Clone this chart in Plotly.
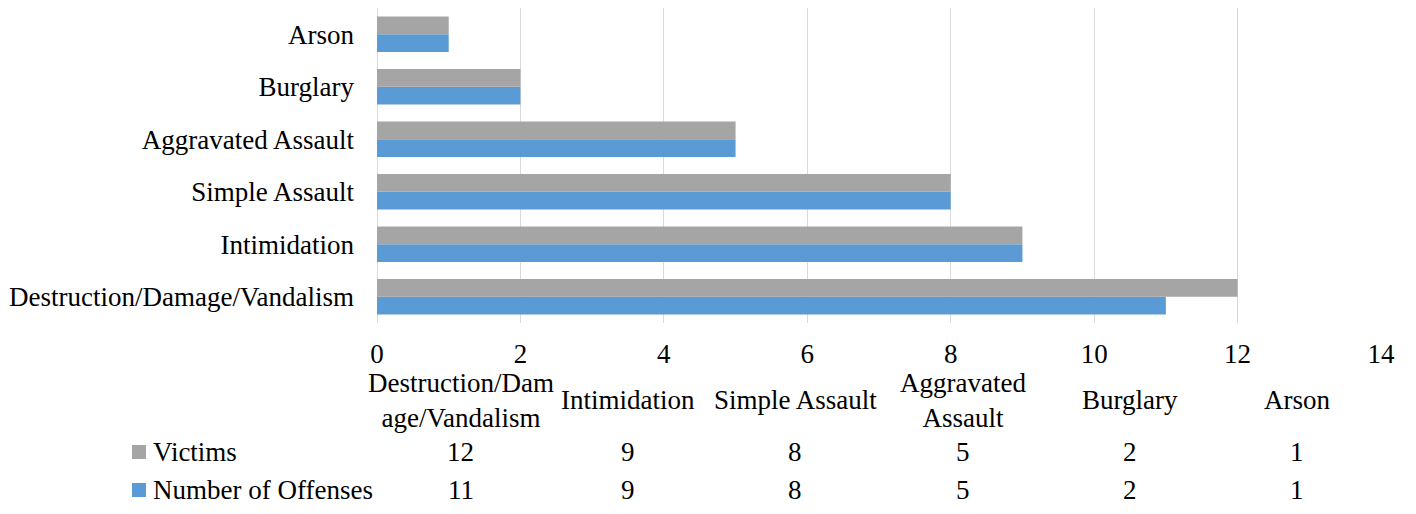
import plotly.graph_objects as go

# ---- data ----
categories = ["Destruction/Damage/Vandalism", "Intimidation", "Simple Assault",
              "Aggravated Assault", "Burglary", "Arson"]
table_headers = ["Destruction/Dam<br>age/Vandalism", "Intimidation", "Simple Assault",
                 "Aggravated<br>Assault", "Burglary", "Arson"]
victims = [12, 9, 8, 5, 2, 1]
offenses = [11, 9, 8, 5, 2, 1]
series_names = ["Victims", "Number of Offenses"]
x_ticks = [0, 2, 4, 6, 8, 10, 12, 14]

# ---- style ----
FONT = "Liberation Serif, Times New Roman, serif"
FS = 27
GRAY = "#A5A5A5"
BLUE = "#5B9BD5"
OFF = 8  # page body margin offset
W, H = 1416 - OFF, 514 - OFF
L, R, T, B = 377 - OFF, 1381 - OFF, 0, 323 - OFF  # plot area (figure pixels)


def px(xp):
    return (xp - OFF - L) / (R - L)


def py(yp):
    return (B - (yp - OFF)) / (B - T)


fig = go.Figure()
fig.add_trace(go.Bar(y=categories, x=offenses, orientation="h", name=series_names[1],
                     marker=dict(color=BLUE, line=dict(width=0))))
fig.add_trace(go.Bar(y=categories, x=victims, orientation="h", name=series_names[0],
                     marker=dict(color=GRAY, line=dict(width=0))))

annotations = []
n = len(categories)
# table header
for i, hdr in enumerate(table_headers):
    annotations.append(dict(x=(i + 0.5) / n, y=py(400), xref="paper", yref="paper", text=hdr,
                            showarrow=False, xanchor="center", yanchor="middle",
                            font=dict(family=FONT, size=FS, color="#000")))
# table rows
rows = [(series_names[0], victims, GRAY, 452), (series_names[1], offenses, BLUE, 490)]
shapes = []
for name, vals, col, yy in rows:
    annotations.append(dict(x=px(151), y=py(yy), xref="paper", yref="paper", text=name,
                            showarrow=False, xanchor="left", yanchor="middle",
                            font=dict(family=FONT, size=FS, color="#000")))
    shapes.append(dict(type="rect", xref="paper", yref="paper",
                       x0=px(132), x1=px(146), y0=py(yy + 7), y1=py(yy - 7),
                       fillcolor=col, line=dict(width=0)))
    for i, v in enumerate(vals):
        annotations.append(dict(x=(i + 0.5) / n, y=py(yy), xref="paper", yref="paper",
                                text=str(v), showarrow=False, xanchor="center", yanchor="middle",
                                font=dict(family=FONT, size=FS, color="#000")))

fig.update_layout(
    width=W, height=H,
    margin=dict(l=L, r=W - R, t=T, b=H - B, pad=0),
    paper_bgcolor="white", plot_bgcolor="white",
    barmode="group", bargap=0.32, bargroupgap=0,
    showlegend=False,
    font=dict(family=FONT, size=FS, color="#000"),
    annotations=annotations, shapes=shapes,
    xaxis=dict(range=[0, 14], tickvals=x_ticks, ticktext=[str(t) for t in x_ticks],
               showgrid=True, gridcolor="#D9D9D9", gridwidth=1,
               zeroline=True, zerolinecolor="#D9D9D9", zerolinewidth=1,
               showline=False, ticks="", ticklabelstandoff=12,
               tickfont=dict(family=FONT, size=FS, color="#000"), fixedrange=True),
    yaxis=dict(categoryorder="array", categoryarray=categories,
               showgrid=False, zeroline=False, showline=False, ticks="",
               ticklabelstandoff=22,
               tickfont=dict(family=FONT, size=FS, color="#000"), fixedrange=True),
)

fig.write_html("out.html")
